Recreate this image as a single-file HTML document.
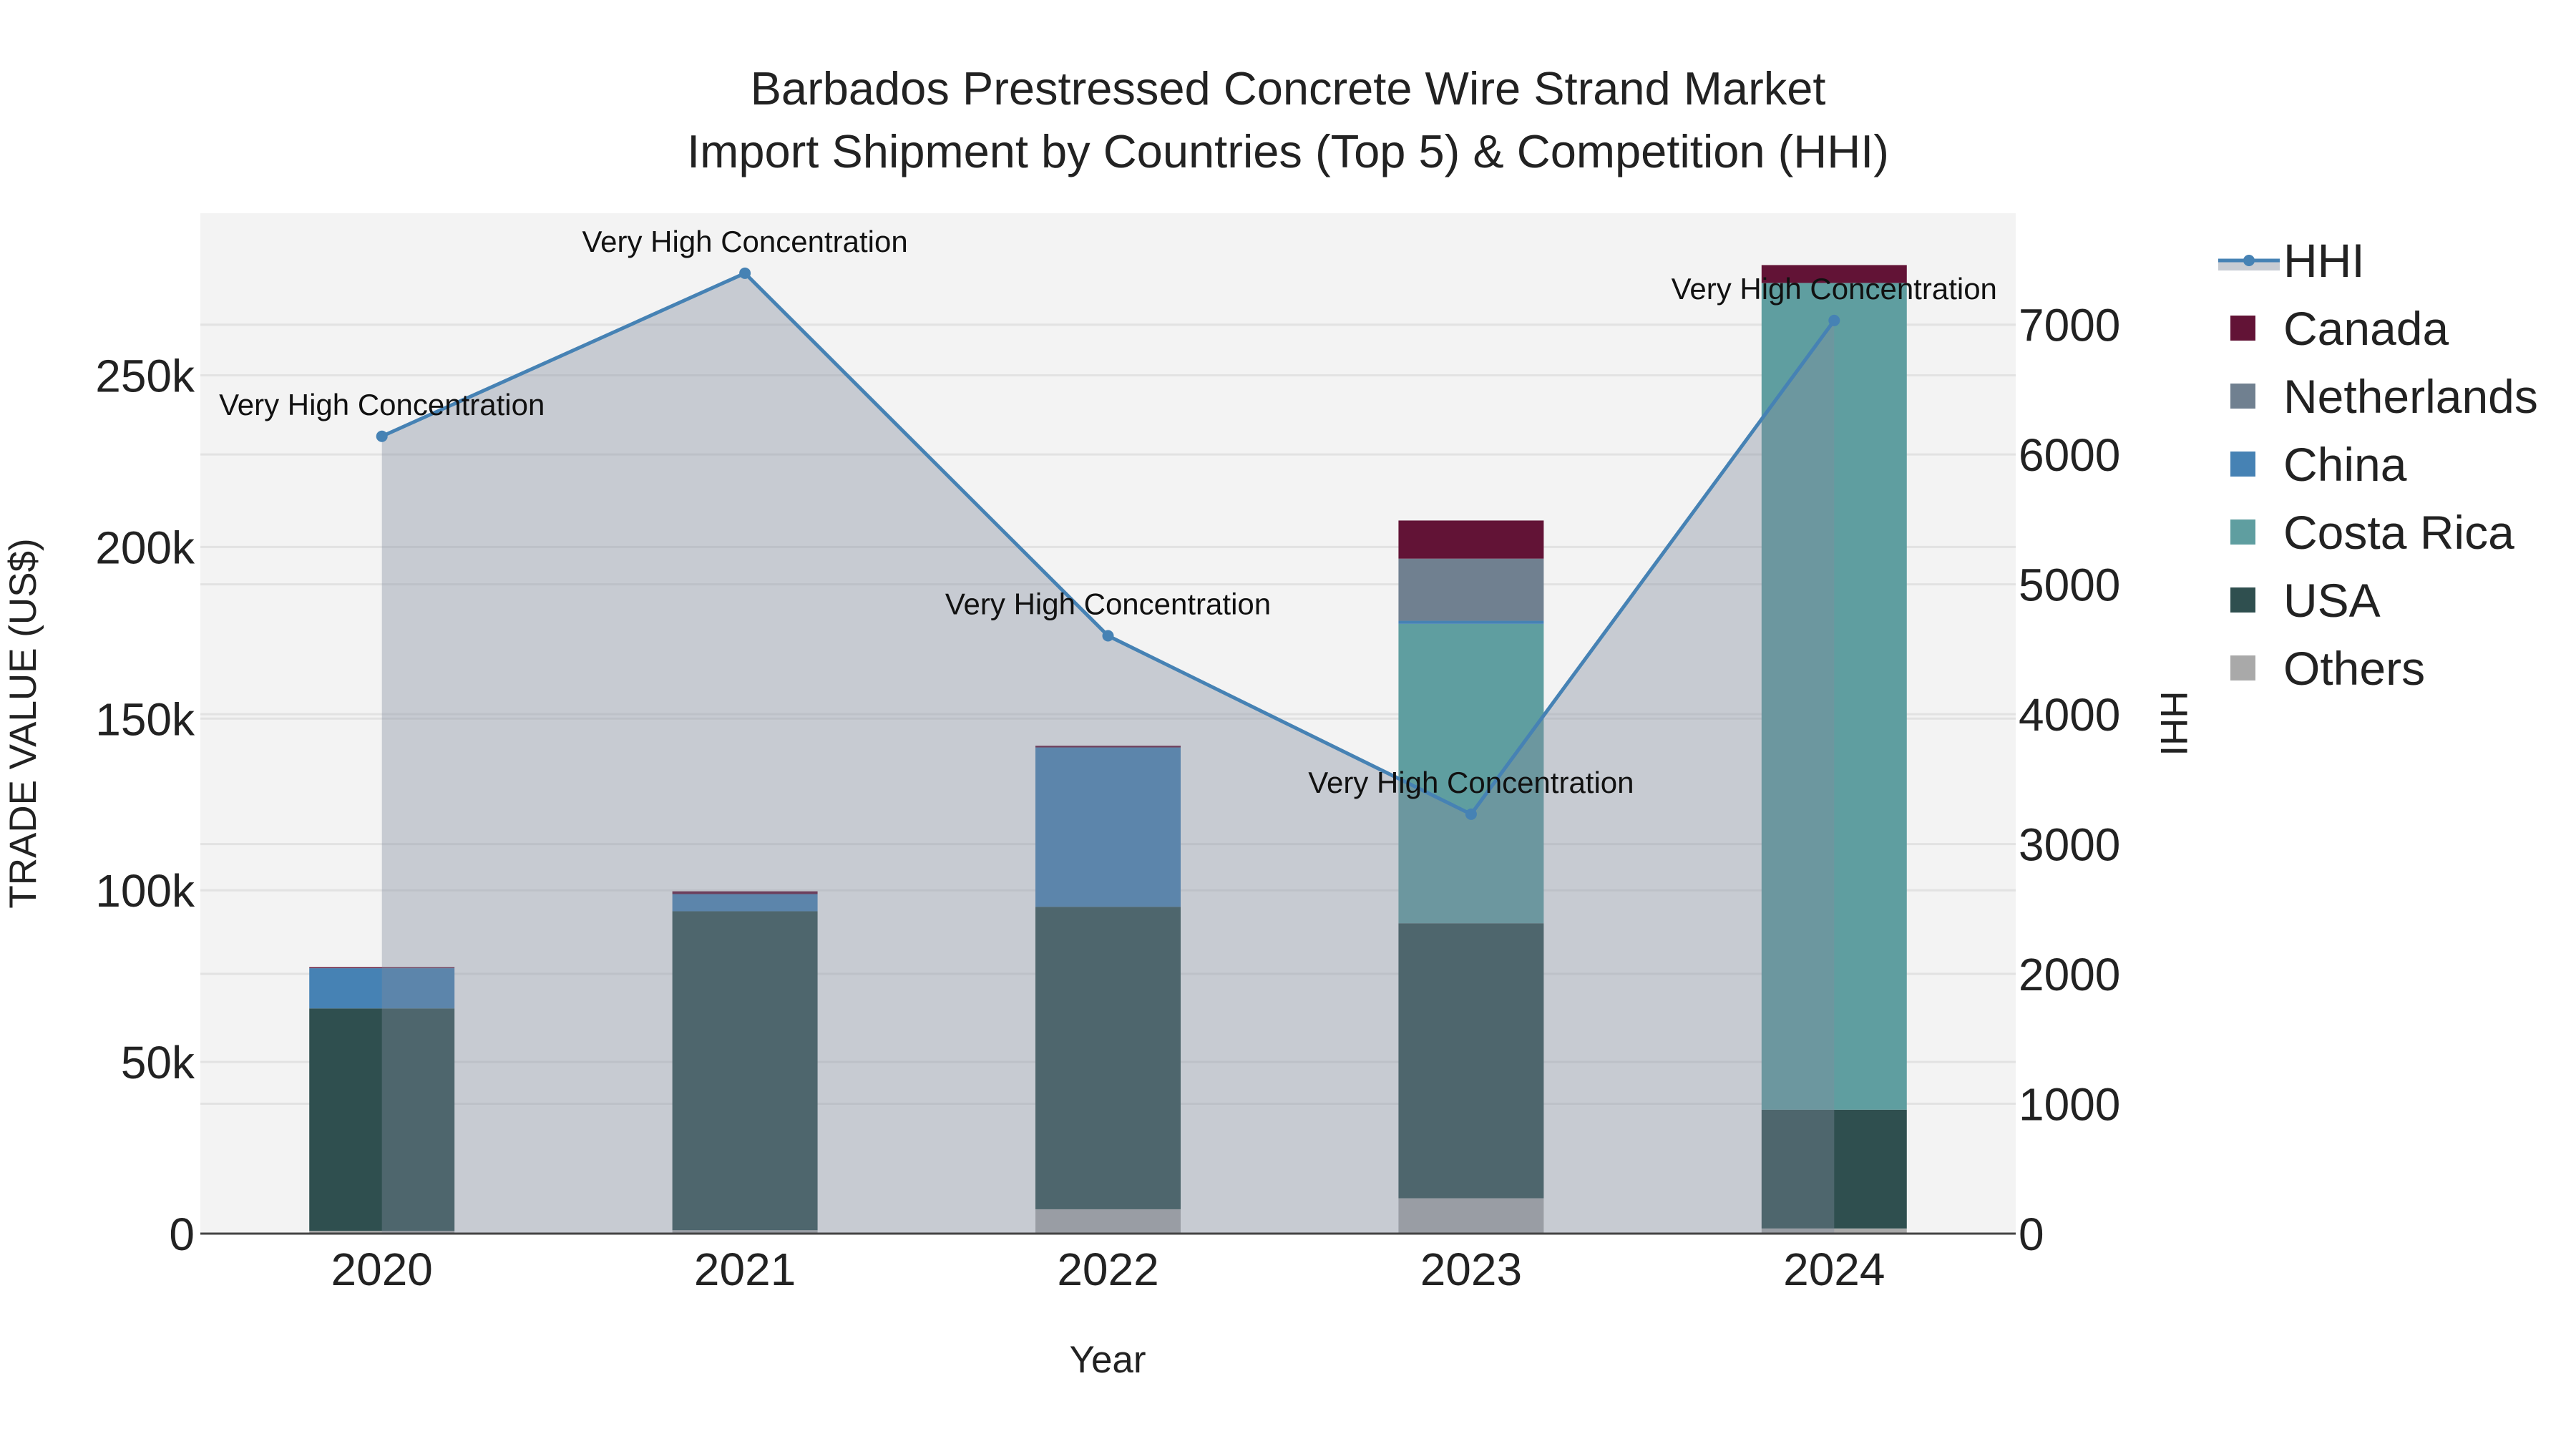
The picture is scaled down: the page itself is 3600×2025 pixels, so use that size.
<!DOCTYPE html>
<html><head><meta charset="utf-8">
<style>
html,body{margin:0;padding:0;background:#fff;}
svg{display:block;font-family:"Liberation Sans",sans-serif;}
</style></head>
<body>
<svg id="chart" width="3600" height="2025" viewBox="0 0 3600 2025" xmlns="http://www.w3.org/2000/svg">
  <rect x="0" y="0" width="3600" height="2025" fill="#ffffff"/>
  <rect x="280" y="298" width="2537" height="1426" fill="#f3f3f3"/>
  <g id="grid"></g>
  <g id="bars"></g>
  <g id="area"></g>
  <g id="axes"></g>
  <g id="hhi"></g>
  <text x="1800" y="146" font-size="65" text-anchor="middle" fill="#222">Barbados Prestressed Concrete Wire Strand Market</text>
  <text x="1800" y="234" font-size="65" text-anchor="middle" fill="#222">Import Shipment by Countries (Top 5) &amp; Competition (HHI)</text>
  <text x="1548" y="1918" font-size="53" text-anchor="middle" fill="#222">Year</text>
  <text transform="translate(50,1011) rotate(-90)" font-size="53" text-anchor="middle" fill="#222">TRADE VALUE (US$)</text>
  <text transform="translate(3020,1011) rotate(90)" font-size="53" text-anchor="middle" fill="#222">HHI</text>
  <g id="legend"></g>
</svg>
<script>
const years = ["2020","2021","2022","2023","2024"];
const others = [0.8, 1.0, 7.1, 10.3, 1.5];
const usa = [64.8, 92.9, 88.1, 80.1, 34.6];
const costaRica = [0, 0, 0, 87.2, 240.8];
const china = [11.7, 5.0, 46.4, 0.9, 0];
const netherlands = [0, 0, 0, 18.1, 0];
const canada = [0.3, 0.8, 0.5, 11.1, 5.2];
const hhiValues = [6140, 7396, 4604, 3230, 7032];
const hhiLabels = ["Very High Concentration","Very High Concentration","Very High Concentration","Very High Concentration","Very High Concentration"];
const yTicks = [0, 50, 100, 150, 200, 250];
const yTickLabels = ["0","50k","100k","150k","200k","250k"];
const y2Ticks = [0,1000,2000,3000,4000,5000,6000,7000];

const NS = "http://www.w3.org/2000/svg";
const L = 280, R = 2817, T = 298, B = 1724;
const yMax = 297.2, y2Max = 7858;
const band = (R - L) / years.length;
const xPos = i => L + band * (i + 0.5);
const yPos = v => B - v / yMax * (B - T);
const y2Pos = v => B - v / y2Max * (B - T);
function mk(tag, attrs, parent){const e=document.createElementNS(NS,tag);for(const k in attrs)e.setAttribute(k,attrs[k]);parent.appendChild(e);return e;}

const grid = document.getElementById('grid');
yTicks.forEach(t=>{const l=mk('line',{x1:L,x2:R,y1:yPos(t),y2:yPos(t),stroke:'#e2e2e2','stroke-width':3},grid);

});
y2Ticks.forEach(t=>{const l=mk('line',{x1:L,x2:R,y1:y2Pos(t),y2:y2Pos(t),stroke:'#e2e2e2','stroke-width':3},grid);

});

const series = [
 {name:'Others',vals:others,color:'#a9a9a9'},
 {name:'USA',vals:usa,color:'#2f4f4f'},
 {name:'Costa Rica',vals:costaRica,color:'#5f9ea0'},
 {name:'China',vals:china,color:'#4682b4'},
 {name:'Netherlands',vals:netherlands,color:'#708090'},
 {name:'Canada',vals:canada,color:'#621336'}
];
const bars = document.getElementById('bars');
const bw = band * 0.4;
years.forEach((yr,i)=>{
  let base = 0;
  series.forEach(s=>{
    const v = s.vals[i];
    if(v>0){
      const r = mk('rect',{x:xPos(i)-bw/2,y:yPos(base+v),width:bw,height:yPos(base)-yPos(base+v),fill:s.color},bars);
      
      
    }
    base += v;
  });
});

const area = document.getElementById('area');
let d = 'M'+xPos(0)+','+B;
hhiValues.forEach((v,i)=>{d+=' L'+xPos(i)+','+y2Pos(v);});
d += ' L'+xPos(hhiValues.length-1)+','+B+' Z';
const ap = mk('path',{d:d,fill:'rgb(128,140,158)','fill-opacity':0.38},area);



const axes = document.getElementById('axes');
const zl = mk('line',{x1:L,x2:R,y1:B,y2:B,stroke:'#444','stroke-width':3},axes);


yTicks.forEach((t,i)=>{const tx=mk('text',{x:L-8,y:yPos(t)+23,'font-size':64,'text-anchor':'end',fill:'#222'},axes);tx.textContent=yTickLabels[i];

});
y2Ticks.forEach(t=>{const tx=mk('text',{x:R+4,y:y2Pos(t)+23,'font-size':64,fill:'#222'},axes);tx.textContent=String(t);

});
years.forEach((yr,i)=>{const tx=mk('text',{x:xPos(i),y:1796,'font-size':64,'text-anchor':'middle',fill:'#222'},axes);tx.textContent=yr;

});

const hhi = document.getElementById('hhi');
const pts = hhiValues.map((v,i)=>xPos(i)+','+y2Pos(v)).join(' ');
const pl = mk('polyline',{points:pts,fill:'none',stroke:'#4682b4','stroke-width':5},hhi);


hhiValues.forEach((v,i)=>{
  const c = mk('circle',{cx:xPos(i),cy:y2Pos(v),r:8,fill:'#4682b4'},hhi);
  
  
  const tx = mk('text',{x:xPos(i),y:y2Pos(v)-30,'font-size':42,'text-anchor':'middle',fill:'#111'},hhi);
  tx.textContent = hhiLabels[i];
  
  
});

const leg = document.getElementById('legend');
const lx = 3100, ly0 = 364, step = 95;
const hl1 = mk('rect',{x:lx,y:ly0,width:86,height:14,fill:'#c8ccd3'},leg);


const hl2 = mk('line',{x1:lx,x2:lx+86,y1:ly0,y2:ly0,stroke:'#4682b4','stroke-width':5},leg);


mk('circle',{cx:lx+43,cy:ly0,r:8,fill:'#4682b4'},leg);
const ht = mk('text',{x:3191,y:ly0+23,'font-size':66,fill:'#222'},leg);
ht.textContent='HHI';


const legOrder = ['Canada','Netherlands','China','Costa Rica','USA','Others'];
legOrder.forEach((n,k)=>{
  const s = series.find(q=>q.name===n);
  const y = ly0 + step*(k+1);
  const sw = mk('rect',{x:3117,y:y-18,width:35,height:35,fill:s.color},leg);
  
  
  const tx = mk('text',{x:3191,y:y+23,'font-size':66,fill:'#222'},leg);
  tx.textContent = n;
  
  
});
</script>
</body></html>
